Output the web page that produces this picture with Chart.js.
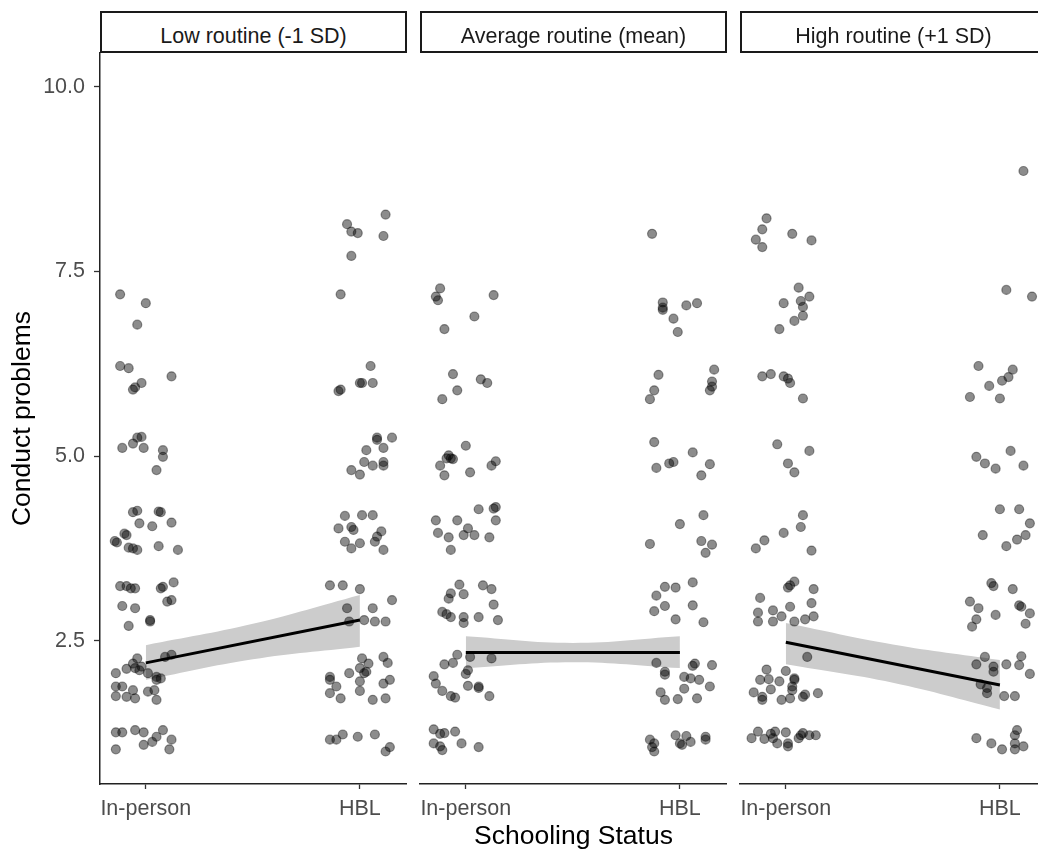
<!DOCTYPE html>
<html lang="en">
<head>
<meta charset="UTF-8">
<title>Conduct problems by schooling status</title>
<script src="https://cdn.jsdelivr.net/npm/chart.js"></script>
<style>
  body { margin: 0; background: #fff; width: 1038px; height: 853px; overflow: hidden; position: relative; }
  canvas { position: absolute; top: 0; }
  .strip {
    position: absolute; top: 11px; width: 307px; height: 42px; box-sizing: border-box;
    border: 2px solid #1a1a1a; background: #fff; text-align: center;
    font-family: 'Liberation Sans', Arial, sans-serif; font-size: 21.5px; color: #1a1a1a;
    padding-top: 11px; line-height: normal; white-space: nowrap;
  }
</style>
</head>
<body>
<canvas id="panel0" width="407" height="853" style="left:0"></canvas>
<canvas id="panel1" width="317" height="853" style="left:410px"></canvas>
<canvas id="panel2" width="317" height="853" style="left:730px"></canvas>

<script>
const categories = ['In-person', 'HBL'];
const categoryValues = [1, 2];
const yTickValues = [2.5, 5, 7.5, 10];
const panelTitles = ['Low routine (-1 SD)', 'Average routine (mean)', 'High routine (+1 SD)'];
const xTitle = 'Schooling Status';
const yTitle = 'Conduct problems';

// jittered raw points: [schooling (1 = In-person, 2 = HBL), conduct problems]
const lowInPerson = [[0.88,7.19],[1.00,7.07],[0.96,6.78],[0.88,6.22],[0.92,6.19],[0.98,5.99],[0.94,5.90],[0.95,5.93],[1.12,6.08],
  [0.96,5.25],[0.98,5.26],[0.94,5.17],[0.89,5.11],[0.99,5.11],[1.08,5.08],[1.08,4.99],[1.05,4.81],
  [0.94,4.24],[0.96,4.26],[1.06,4.25],[1.07,4.24],[0.97,4.09],[1.03,4.05],[1.12,4.10],[0.90,3.95],[0.91,3.93],[0.855,3.85],[0.865,3.83],[0.92,3.76],[0.94,3.75],[0.96,3.73],[1.06,3.78],[1.15,3.73],
  [0.88,3.24],[0.91,3.24],[0.93,3.21],[0.95,3.21],[1.07,3.21],[1.08,3.23],[1.13,3.29],[1.10,3.03],[1.12,3.05],[0.89,2.97],[0.95,2.94],[1.02,2.78],[1.02,2.76],[0.92,2.70],
  [0.96,2.26],[0.94,2.19],[0.95,2.13],[0.97,2.10],[0.98,2.15],[1.12,2.31],[1.09,2.28],[0.86,2.06],[0.91,2.12],[1.01,2.06],[1.05,2.01],[1.05,1.97],[1.07,1.99],[0.86,1.88],[0.89,1.88],[0.94,1.83],[0.91,1.74],[0.86,1.75],[0.95,1.72],[1.01,1.81],[1.04,1.83],[1.05,1.70],
  [0.86,1.26],[0.89,1.26],[0.95,1.29],[0.99,1.26],[1.08,1.29],[1.05,1.20],[1.03,1.13],[1.12,1.16],[0.86,1.03],[0.99,1.09],[1.11,1.03]];
const lowHbl = [[2.12,8.27],[1.94,8.14],[1.96,8.04],[1.99,8.02],[2.11,7.98],[1.96,7.71],[1.91,7.19],[2.05,6.22],[2.00,5.99],[2.01,5.99],[2.06,5.99],[1.90,5.88],[1.91,5.90],
  [2.08,5.25],[2.08,5.22],[2.15,5.25],[2.11,5.11],[2.03,5.08],[2.02,4.92],[2.06,4.87],[2.11,4.92],[2.11,4.87],[1.96,4.81],[2.00,4.75],
  [1.93,4.19],[2.01,4.20],[2.06,4.20],[1.90,4.02],[1.96,4.04],[1.97,4.00],[2.10,3.98],[2.08,3.91],[2.07,3.84],[1.93,3.84],[1.96,3.75],[2.00,3.82],[2.11,3.73],
  [1.86,3.25],[1.92,3.25],[2.00,3.20],[2.15,3.05],[1.94,2.94],[2.06,2.94],[2.02,2.78],[2.07,2.76],[2.12,2.76],[1.95,2.76],
  [2.01,2.26],[2.04,2.19],[2.11,2.28],[2.13,2.20],[1.95,2.06],[2.00,2.13],[2.02,2.06],[2.03,2.08],[1.86,2.01],[1.86,1.97],[1.89,1.88],[2.00,1.95],[2.11,1.92],[2.14,1.97],[1.86,1.79],[1.91,1.72],[2.00,1.82],[2.06,1.70],[2.12,1.72],
  [1.86,1.16],[1.89,1.16],[1.92,1.23],[1.99,1.20],[2.07,1.23],[2.12,1.00],[2.14,1.06]];
const avgInPerson = [[0.88,7.27],[0.86,7.16],[0.87,7.11],[1.13,7.18],[1.04,6.89],[0.90,6.72],[0.94,6.11],[1.07,6.04],[1.10,5.99],[0.96,5.89],[0.89,5.77],
  [1.00,5.14],[0.92,5.01],[0.93,4.97],[0.94,4.96],[0.91,4.97],[0.88,4.87],[0.90,4.74],[1.02,4.78],[1.12,4.87],[1.14,4.93],
  [0.86,4.13],[0.96,4.13],[1.06,4.28],[1.13,4.29],[1.14,4.31],[1.14,4.13],[0.87,3.96],[0.92,3.90],[0.99,3.93],[1.01,4.02],[1.04,3.93],[1.11,3.90],[0.93,3.73],
  [0.97,3.26],[0.99,3.13],[0.93,3.14],[0.92,3.07],[1.08,3.25],[1.12,3.20],[1.13,2.99],[0.89,2.89],[0.91,2.86],[0.93,2.82],[0.99,2.82],[0.99,2.74],[1.06,2.82],[1.15,2.78],
  [0.96,2.31],[1.02,2.28],[1.12,2.26],[0.90,2.18],[0.94,2.20],[1.01,2.10],[1.00,2.05],[0.85,2.02],[0.86,1.92],[1.01,1.89],[1.06,1.88],[1.06,1.86],[0.89,1.82],[0.93,1.75],[0.95,1.73],[1.11,1.75],
  [0.85,1.30],[0.88,1.24],[0.90,1.25],[0.95,1.27],[0.85,1.11],[0.88,1.07],[0.89,1.02],[0.98,1.11],[1.06,1.06]];
const avgHbl = [[1.87,8.01],[1.92,7.08],[1.92,7.01],[1.92,6.98],[2.03,7.04],[2.08,7.07],[1.97,6.86],[1.99,6.68],[1.90,6.10],[1.88,5.89],[1.86,5.77],[2.16,6.17],[2.15,6.01],[2.15,5.94],[2.14,5.89],
  [1.88,5.19],[2.06,5.05],[1.89,4.84],[1.95,4.90],[1.97,4.92],[2.14,4.89],[2.10,4.74],
  [2.11,4.20],[2.00,4.08],[1.86,3.81],[2.10,3.85],[2.15,3.80],[2.12,3.69],
  [1.93,3.23],[1.98,3.22],[2.06,3.29],[1.89,3.11],[1.93,2.97],[1.88,2.90],[2.06,2.98],[1.98,2.79],[2.11,2.75],
  [1.89,2.20],[2.07,2.19],[2.06,2.16],[2.15,2.17],[1.93,2.08],[1.93,2.04],[2.02,2.01],[2.05,1.99],[2.09,1.97],[2.14,1.88],[2.02,1.85],[1.91,1.80],[1.93,1.70],[1.99,1.71],[2.08,1.72],
  [1.86,1.16],[1.88,1.11],[1.88,1.00],[1.87,1.06],[1.98,1.22],[2.03,1.21],[2.01,1.09],[2.05,1.13],[2.00,1.11],[2.12,1.20],[2.12,1.16]];
const highInPerson = [[0.91,8.22],[0.89,8.07],[0.86,7.93],[0.89,7.83],[1.03,8.01],[1.12,7.92],[1.06,7.28],[1.07,7.10],[1.08,7.02],[1.11,7.16],[0.99,7.07],[1.08,6.90],[1.04,6.83],[0.97,6.72],
  [0.89,6.08],[0.93,6.11],[0.99,6.08],[1.01,6.05],[1.02,5.99],[1.08,5.78],[0.96,5.16],[1.11,5.07],[1.01,4.90],[1.04,4.78],
  [1.08,4.20],[1.07,4.04],[0.99,3.96],[0.90,3.86],[0.86,3.75],[1.12,3.72],
  [1.04,3.30],[1.02,3.25],[1.01,3.22],[1.13,3.20],[0.88,3.08],[1.02,2.96],[1.12,3.01],[0.87,2.88],[0.87,2.76],[0.94,2.91],[0.94,2.76],[0.98,2.83],[1.04,2.76],[1.09,2.79],[1.13,2.83],
  [1.10,2.28],[0.91,2.11],[1.00,2.09],[1.04,1.99],[1.04,1.97],[0.88,1.97],[0.92,1.98],[0.97,1.95],[1.03,1.88],[1.03,1.83],[0.93,1.84],[0.85,1.80],[0.89,1.74],[0.89,1.70],[0.98,1.70],[1.02,1.72],[1.08,1.74],[1.09,1.77],[1.15,1.79],
  [0.84,1.18],[0.87,1.27],[0.90,1.17],[0.93,1.24],[0.95,1.27],[0.96,1.11],[1.00,1.26],[1.01,1.07],[1.01,1.11],[1.06,1.18],[1.08,1.25],[1.11,1.22],[1.14,1.22],[1.07,1.22],[0.94,1.18]];
const highHbl = [[2.11,8.86],[2.03,7.25],[2.15,7.16],[1.90,6.22],[2.06,6.17],[2.04,6.07],[2.01,6.02],[1.95,5.95],[1.86,5.80],[2.00,5.78],[2.05,5.07],[1.89,4.99],[1.93,4.90],[1.98,4.83],[2.11,4.87],
  [2.00,4.28],[2.09,4.28],[2.14,4.09],[1.92,3.93],[2.08,3.87],[2.12,3.93],[2.03,3.78],
  [1.96,3.28],[1.97,3.24],[2.06,3.20],[1.86,3.03],[1.90,2.94],[2.09,2.98],[2.10,2.96],[2.14,2.87],[1.98,2.85],[1.89,2.79],[1.87,2.69],[2.12,2.73],
  [1.93,2.28],[1.89,2.18],[1.97,2.15],[1.97,2.08],[2.03,2.18],[2.10,2.29],[2.09,2.17],[2.14,2.05],[1.94,1.86],[1.94,1.79],[1.91,1.91],[2.02,1.75],[2.07,1.75],
  [1.89,1.18],[1.96,1.11],[2.01,1.03],[2.08,1.29],[2.07,1.22],[2.07,1.11],[2.07,1.03],[2.11,1.07]];

// fitted lines and confidence bands
const fitX = [1, 2];
const lowFit = [2.2, 2.78];
const avgFit = [2.34, 2.34];
const highFit = [2.48, 1.9];
const bandX = [1, 1.5, 2];
const lowUpper = [2.44, 2.73, 3.12];
const lowLower = [1.97, 2.25, 2.42];
const avgUpper = [2.56, 2.47, 2.56];
const avgLower = [2.13, 2.21, 2.13];
const highUpper = [2.74, 2.45, 2.24];
const highLower = [2.18, 1.93, 1.57];

const FONT = "'Liberation Sans', Arial, sans-serif";

function toXY(xs, ys) {
    return xs.map((x, i) => ({ x: x, y: ys[i] }));
}

function makePanel(i, points, fit, upper, lower) {
    const first = i === 0;
    const strip = document.createElement('div');
    strip.className = 'strip';
    strip.style.left = [100, 420, 740][i] + 'px';
    strip.textContent = panelTitles[i];
    document.body.appendChild(strip);

    const ctx = document.getElementById('panel' + i).getContext('2d');
    return new Chart(ctx, {
        type: 'scatter',
        data: {
            datasets: [
                { type: 'line', data: toXY(fitX, fit), borderColor: '#000', borderWidth: 3, pointRadius: 0, fill: false, order: 0 },
                { data: points.map(p => ({ x: p[0], y: p[1] })), pointRadius: 4.5,
                  backgroundColor: 'rgba(0,0,0,0.45)', borderColor: 'rgba(0,0,0,0.4)', borderWidth: 1.2, order: 1 },
                { type: 'line', data: toXY(bandX, upper), borderWidth: 0, borderColor: 'rgba(0,0,0,0)', pointRadius: 0,
                  backgroundColor: '#cccccc', fill: '+1', tension: 0.4, order: 2 },
                { type: 'line', data: toXY(bandX, lower), borderWidth: 0, borderColor: 'rgba(0,0,0,0)', pointRadius: 0,
                  fill: false, tension: 0.4, order: 3 }
            ]
        },
        options: {
            responsive: false,
            animation: false,
            events: [],
            layout: { autoPadding: false, padding: { left: first ? 0 : 10, top: 53, right: 0, bottom: 0 } },
            plugins: { legend: { display: false }, tooltip: { enabled: false } },
            scales: {
                x: {
                    type: 'linear', min: 0.786, max: 2.22,
                    afterBuildTicks: s => { s.ticks = categoryValues.map(v => ({ value: v })); },
                    afterFit: s => { s.height = 69; s.paddingLeft = 0; s.paddingRight = 0; },
                    ticks: {
                        callback: v => categories[categoryValues.indexOf(v)],
                        color: '#4d4d4d', font: { family: FONT, size: 21.5 }, padding: 7,
                        maxRotation: 0, autoSkip: false
                    },
                    grid: { drawOnChartArea: false, drawTicks: true, tickLength: 5, tickColor: '#333', tickWidth: 1.3 },
                    border: { display: true, color: '#222', width: 1.5 },
                    title: { display: i === 1, text: xTitle, color: '#000', font: { family: FONT, size: 26.5 }, padding: { top: 0, bottom: 0 } }
                },
                y: {
                    type: 'linear', min: 0.56, max: 10.458, display: first,
                    afterBuildTicks: s => { s.ticks = yTickValues.map(v => ({ value: v })); },
                    afterFit: s => { s.width = first ? 100 : 0; s.paddingTop = 0; s.paddingBottom = 0; },
                    ticks: { callback: v => v.toFixed(1), color: '#4d4d4d', font: { family: FONT, size: 21.5 }, padding: 9 },
                    grid: { drawOnChartArea: false, drawTicks: true, tickLength: 6, tickColor: '#333', tickWidth: 1.3 },
                    border: { display: true, color: '#222', width: 1.5 },
                    title: { display: true, text: yTitle, color: '#000', font: { family: FONT, size: 26.5 }, padding: { top: 7, bottom: 0 } }
                }
            }
        }
    });
}

makePanel(0, lowInPerson.concat(lowHbl), lowFit, lowUpper, lowLower);
makePanel(1, avgInPerson.concat(avgHbl), avgFit, avgUpper, avgLower);
makePanel(2, highInPerson.concat(highHbl), highFit, highUpper, highLower);
</script>
</body>
</html>
